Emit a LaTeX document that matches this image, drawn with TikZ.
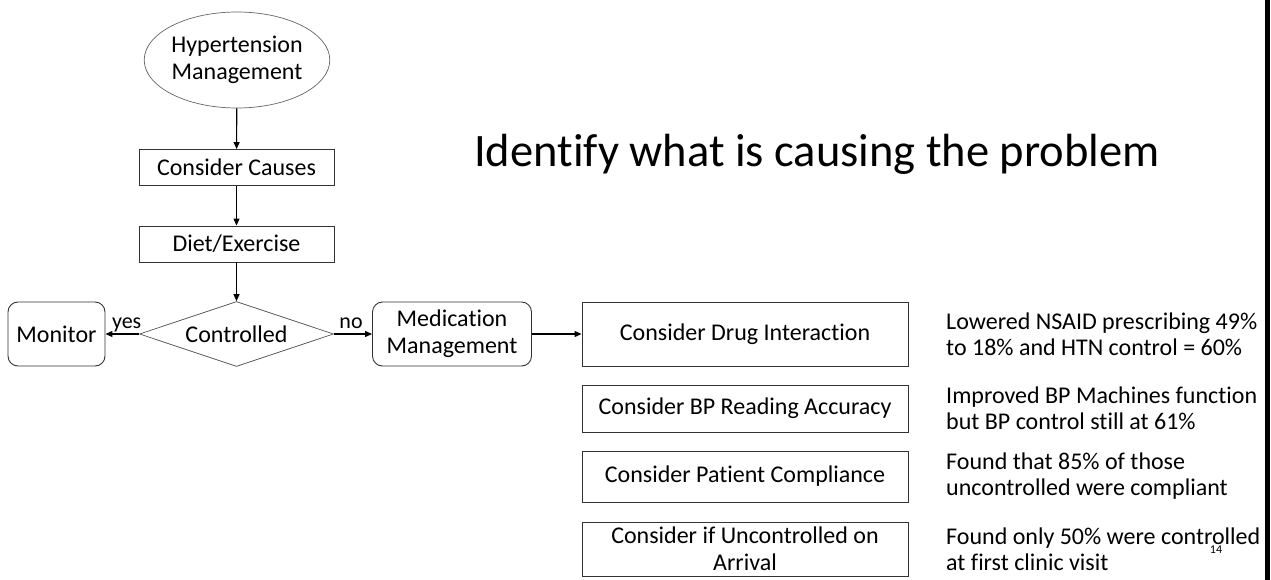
\documentclass[tikz,border=0pt]{standalone}
\usepackage{fontspec}
\setmainfont{Carlito}[Ligatures=NoCommon]
\usetikzlibrary{shapes.geometric,arrows.meta}
\begin{document}
\begin{tikzpicture}[x=1pt,y=-1pt,
  base/.style={draw=black!80, line width=0.9pt, inner sep=0pt, align=center,
    font=\fontsize{24}{27}\selectfont},
  box/.style={base, rectangle},
  rbox/.style={base, rectangle, rounded corners=10pt},
  note/.style={anchor=west, align=left, inner sep=0pt,
    font=\fontsize{24}{26}\selectfont},
  flow/.style={-{Triangle[length=7pt,width=6pt]}, line width=1.1pt, black},
  lbl/.style={inner sep=0pt, anchor=base, font=\fontsize{22}{24}\selectfont}]
\useasboundingbox (0,0) rectangle (1271,580);

% main flow, top to bottom
\node[base, ellipse, minimum width=178pt, minimum height=96pt,
  draw=black!60, line width=0.7pt] (start) at (237,60) {Hypertension\\Management};
\node[box, minimum width=195pt, minimum height=36pt] (causes) at (236.5,167.5) {Consider Causes};
\node[box, minimum width=195pt, minimum height=36pt] (diet) at (236.5,244) {Diet/Exercise};
\node[base, diamond, aspect=3, minimum width=194pt, minimum height=65pt,
  draw=black!70, line width=0.7pt] (ctrl) at (236.5,334) {Controlled};
\node[rbox, minimum width=97pt, minimum height=64pt] (monitor) at (56.5,334) {Monitor};
\node[rbox, minimum width=159pt, minimum height=64pt] (med) at (452,334) {Medication\\Management};

% causes to check
\node[box, minimum width=326pt, minimum height=64pt] (drug) at (745,334) {Consider Drug Interaction};
\node[box, minimum width=326pt, minimum height=47pt] (bp) at (745,408.5) {Consider BP Reading Accuracy};
\node[box, minimum width=326pt, minimum height=51pt] (comp) at (745,476.5) {Consider Patient Compliance};
\node[box, minimum width=326pt, minimum height=54pt] (arr) at (745,549) {Consider if Uncontrolled on\\Arrival};

% findings
\node[note] (n1) at (946,334) {Lowered NSAID prescribing 49\%\\to 18\% and HTN control = 60\%};
\node[note] (n2) at (946,408.5) {Improved BP Machines function\\but BP control still at 61\%};
\node[note] (n3) at (946,476.5) {Found that 85\% of those\\uncontrolled were compliant};
\node[note] (n4) at (946,549) {Found only 50\% were controlled\\at first clinic visit};

% heading, slide number and edge bar
\node[anchor=base west, inner sep=0pt, font=\fontsize{46.5}{50}\selectfont] (title) at (474,167)
  {Identify what is causing the problem};
\node[inner sep=0pt, font=\fontsize{12}{14}\selectfont] (num) at (1216,550) {14};
\fill[black] (1265,0) rectangle (1270,580);

% connectors
\draw[flow] (start) -- (causes);
\draw[flow] (causes) -- (diet);
\draw[flow] (diet) -- (ctrl);
\draw[flow] (ctrl) -- node[lbl, pos=0.37, yshift=6pt] {yes} (monitor);
\draw[flow] (ctrl) -- node[lbl, pos=0.45, yshift=6pt] {no} (med);
\draw[flow] (med) -- (drug);
\end{tikzpicture}
\end{document}
